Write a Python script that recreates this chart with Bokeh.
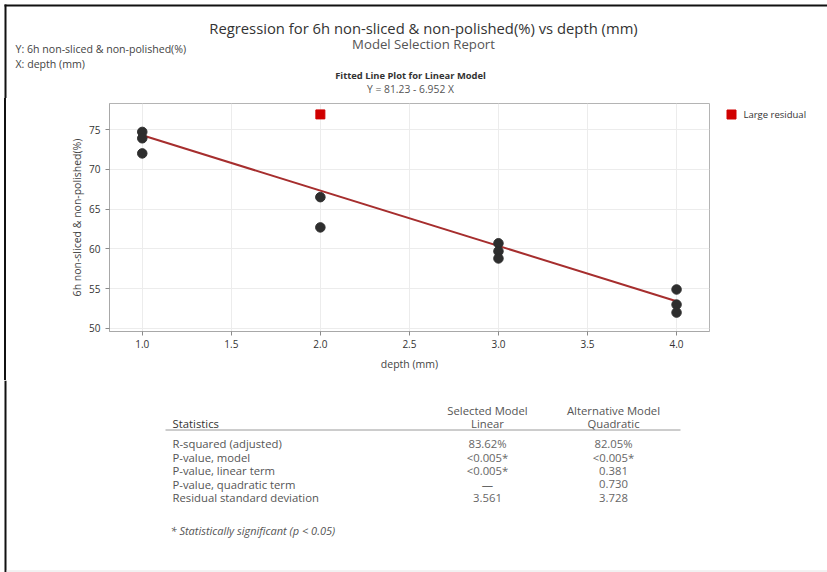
from bokeh.plotting import figure
from bokeh.layouts import column, row
from bokeh.models import FixedTicker, NumeralTickFormatter, Range1d, Div
from bokeh.core.properties import value
from bokeh.embed import file_html
from bokeh.resources import INLINE

# ---- data -------------------------------------------------------------
depth_mm = [1, 1, 1, 2, 2, 3, 3, 3, 4, 4, 4]
non_sliced_pct = [74.7, 73.9, 72.0, 66.5, 62.7, 60.7, 59.7, 58.8, 54.9, 53.0, 52.0]
large_resid_depth = [2]
large_resid_pct = [76.9]

fit_intercept = 81.23
fit_slope = -6.952

x_ticks = [1.0, 1.5, 2.0, 2.5, 3.0, 3.5, 4.0]
y_ticks = [50, 55, 60, 65, 70, 75]

stat_names = ["R-squared (adjusted)", "P-value, model", "P-value, linear term",
              "P-value, quadratic term", "Residual standard deviation"]
linear_vals = ["83.62%", "<0.005*", "<0.005*", "\u2014", "3.561"]
quadratic_vals = ["82.05%", "<0.005*", "0.381", "0.730", "3.728"]

# ---- page geometry ------------------------------------------------------
W, H = 827, 572
HEAD_H = 98          # header band height
MID_H = 282          # band holding the fitted line plot
BOT_H = H - HEAD_H - MID_H
EDGE_X, EDGE_W = 4, 2                  # dark page edge on the left
FL, FR, FT, FB = 109, 709, 103, 331   # plot frame on the page
MAIN_X0 = EDGE_X + EDGE_W
MAIN_W = (FL - MAIN_X0) + (FR - FL) + 2
LEG_X0 = MAIN_X0 + MAIN_W
LEG_W = W - LEG_X0
BORDER_T = FT - HEAD_H
BORDER_B = HEAD_H + MID_H - FB
FONT = "Open Sans"
EDGE = "#111111"
TXT = 11.3           # table text size


def panel(w, h):
    """A blank drawing band measured in page pixels (y grows downward)."""
    f = figure(width=w, height=h, output_backend="svg", toolbar_location=None,
               x_range=Range1d(0, w), y_range=Range1d(h, 0),
               x_axis_type=None, y_axis_type=None, min_border=0,
               background_fill_color="white", border_fill_color="white")
    f.outline_line_color = None
    return f


def put(f, text, x, y, size, color, align="left", style="normal"):
    f.text(x=[x], y=[y], text=[text], text_align=align, text_baseline="middle",
           text_font=value(FONT), text_font_size=value(f"{size}px"),
           text_color=color, text_font_style=value(style))


# ---- header band --------------------------------------------------------
head = panel(W, HEAD_H)
head.segment(x0=[EDGE_X], y0=[5], x1=[W], y1=[5], line_color=EDGE, line_width=2)
head.segment(x0=[EDGE_X + 1], y0=[4], x1=[EDGE_X + 1], y1=[HEAD_H], line_color=EDGE, line_width=2)
put(head, "Regression for 6h non-sliced & non-polished(%) vs depth (mm)", 423, 27, 14.8, "#333333", "center")
put(head, "Model Selection Report", 423, 43, 13.2, "#555555", "center")
put(head, "Y: 6h non-sliced & non-polished(%)", 15, 48, 10.6, "#444444")
put(head, "X: depth (mm)", 15, 63, 10.6, "#444444")
put(head, "Fitted Line Plot for Linear Model", 410, 75, 9.4, "#333333", "center", "bold")
put(head, "Y = 81.23 - 6.952 X", 410, 88, 10.3, "#555555", "center")

# ---- left page edge beside the plot --------------------------------------
edge = Div(width=MAIN_X0, height=MID_H, margin=0,
           text=(f'<div style="margin-left:{EDGE_X}px;width:{EDGE_W}px;'
                 f'height:{MID_H}px;background-color:{EDGE};"></div>'))

# ---- fitted line plot ---------------------------------------------------
p = figure(width=MAIN_W, height=MID_H, output_backend="svg", toolbar_location=None,
           x_range=Range1d(0.816, 4.185), y_range=Range1d(49.62, 78.27),
           min_border_left=FL - MAIN_X0, min_border_right=2,
           min_border_top=BORDER_T, min_border_bottom=BORDER_B,
           background_fill_color="white", border_fill_color="white")
p.outline_line_color = "#b4b4b4"
p.outline_line_width = 1

p.xaxis.ticker = FixedTicker(ticks=x_ticks)
p.xaxis.formatter = NumeralTickFormatter(format="0.0")
p.yaxis.ticker = FixedTicker(ticks=y_ticks)
for ax in (p.xaxis, p.yaxis):
    ax.axis_line_color = "#a8a8a8"
    ax.major_tick_line_color = "#8a8a8a"
    ax.major_tick_in = 0
    ax.major_tick_out = 4
    ax.minor_tick_line_color = None
    ax.major_label_text_font = FONT
    ax.major_label_text_font_size = "10px"
    ax.major_label_text_color = "#333333"
    ax.axis_label_text_font = FONT
    ax.axis_label_text_font_size = "10.5px"
    ax.axis_label_text_font_style = "normal"
    ax.axis_label_text_color = "#444444"
p.xaxis.axis_label = "depth (mm)"
p.yaxis.axis_label = "6h non-sliced & non-polished(%)"
p.xaxis.major_label_standoff = 4
p.yaxis.major_label_standoff = 5
p.xaxis.axis_label_standoff = 6
p.yaxis.axis_label_standoff = 2

p.xgrid.ticker = FixedTicker(ticks=x_ticks)
p.ygrid.ticker = FixedTicker(ticks=y_ticks)
p.xgrid.grid_line_color = "#ececec"
p.ygrid.grid_line_color = "#ececec"

# fitted line from the stated equation
x_fit = [min(depth_mm), max(depth_mm)]
y_fit = [fit_intercept + fit_slope * x for x in x_fit]
p.line(x_fit, y_fit, line_color="#a62e2e", line_width=2)

# observations
p.scatter(depth_mm, non_sliced_pct, size=9.5, color="#2e2e2e")
p.scatter(large_resid_depth, large_resid_pct, marker="square", size=9, color="#d00000")

# ---- legend key to the right of the plot (page coordinates) -------------
leg = figure(width=LEG_W, height=MID_H, output_backend="svg", toolbar_location=None,
             x_range=Range1d(LEG_X0, W), y_range=Range1d(FB, FT),
             x_axis_type=None, y_axis_type=None,
             min_border_left=0, min_border_right=0,
             min_border_top=BORDER_T, min_border_bottom=BORDER_B,
             background_fill_color="white", border_fill_color="white")
leg.outline_line_color = None
leg.scatter(x=[731], y=[114], marker="square", size=9, color="#d00000")
put(leg, "Large residual", 743, 114, 9.5, "#333333")

# ---- statistics table ---------------------------------------------------
bot = panel(W, BOT_H)
y0 = HEAD_H + MID_H
bot.segment(x0=[EDGE_X + 1], y0=[0], x1=[EDGE_X + 1], y1=[BOT_H], line_color=EDGE, line_width=2)
bot.segment(x0=[6], y0=[570.5 - y0], x1=[W], y1=[570.5 - y0], line_color="#e4e4e4", line_width=1)

put(bot, "Selected Model", 487, 409.5 - y0, TXT, "#555555", "center")
put(bot, "Linear", 487, 422.5 - y0, TXT, "#555555", "center")
put(bot, "Alternative Model", 613, 409.5 - y0, TXT, "#555555", "center")
put(bot, "Quadratic", 613, 422.5 - y0, TXT, "#555555", "center")
put(bot, "Statistics", 172, 422.5 - y0, TXT, "#333333")
bot.segment(x0=[165], y0=[429.5 - y0], x1=[680], y1=[429.5 - y0], line_color="#9a9a9a", line_width=1)
row_y = [443, 456.5, 470, 483.5, 497]
for name, lv, qv, ry in zip(stat_names, linear_vals, quadratic_vals, row_y):
    put(bot, name, 172, ry - y0, TXT, "#555555")
    put(bot, lv, 487, ry - y0, TXT, "#666666", "center")
    put(bot, qv, 613, ry - y0, TXT, "#666666", "center")
put(bot, "* Statistically significant (p < 0.05)", 170, 530 - y0, 11, "#555555", "left", "italic")

page = column(head, row(edge, p, leg, spacing=0), bot, spacing=0)
open("out.html", "w").write(file_html(page, INLINE))
